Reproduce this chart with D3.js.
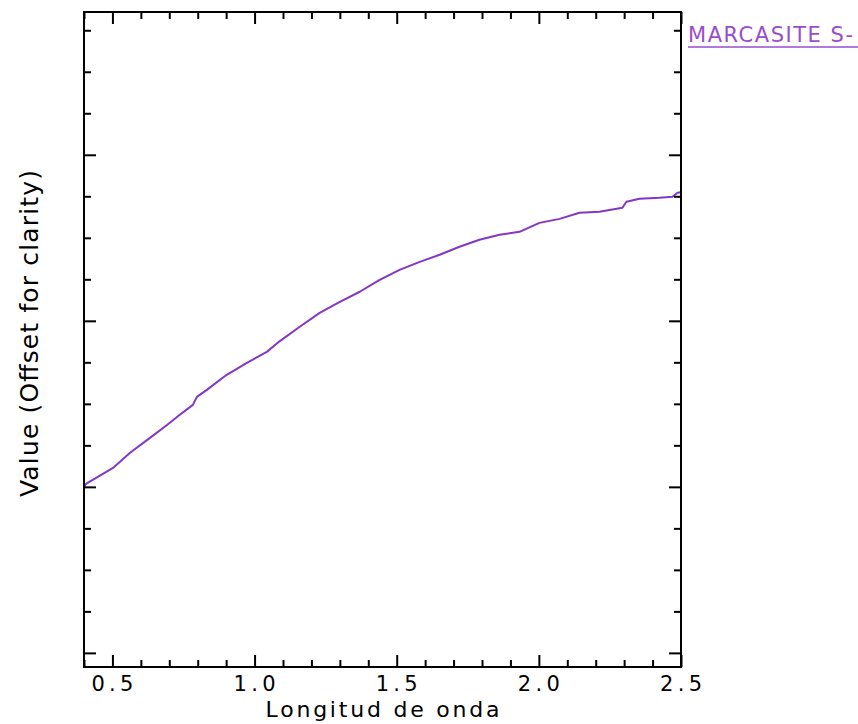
<!DOCTYPE html>
<html>
<head>
<meta charset="utf-8">
<script src="https://cdn.jsdelivr.net/npm/d3@7"></script>
<style>
    body { margin: 0; background: #fff; }
    svg text { font-family: "DejaVu Sans", sans-serif; fill: #000; }
    .axis path { display: none; }
    .axis line { stroke: #000; stroke-width: 2; }
</style>
</head>
<body>
<div id="chart"></div>
<script>
// spectrum (y is in offset units)
var wavelength = [0.40, 0.407, 0.502, 0.562, 0.632, 0.692, 0.737, 0.783, 0.797, 0.832, 0.902, 0.973,
    1.043, 1.089, 1.159, 1.229, 1.300, 1.370, 1.440, 1.510, 1.581, 1.651, 1.721, 1.791, 1.862,
    1.932, 2.002, 2.073, 2.143, 2.213, 2.294, 2.308, 2.354, 2.424, 2.470, 2.488, 2.50];
var value = [1.00, 1.018, 1.114, 1.205, 1.295, 1.373, 1.434, 1.494, 1.542, 1.584, 1.675, 1.747,
    1.813, 1.878, 1.964, 2.048, 2.114, 2.175, 2.247, 2.307, 2.355, 2.398, 2.446, 2.488, 2.518,
    2.536, 2.590, 2.614, 2.651, 2.657, 2.681, 2.717, 2.735, 2.741, 2.747, 2.771, 2.775];

var xMajorTicks = [0.5, 1.0, 1.5, 2.0, 2.5];
var xMinorTicks = [0.4, 0.6, 0.7, 0.8, 0.9, 1.1, 1.2, 1.3, 1.4, 1.6, 1.7, 1.8, 1.9, 2.1, 2.2, 2.3, 2.4];
var yMajorTicks = [0, 1, 2, 3];
var yMinorTicks = [0.25, 0.5, 0.75, 1.25, 1.5, 1.75, 2.25, 2.5, 2.75, 3.25, 3.5, 3.75];
var seriesName = "MARCASITE S-";

var width = 858, height = 724;
var margin = { top: 12, right: 177, bottom: 57, left: 84 };

var svg = d3.select("#chart")
    .append("svg")
    .attr("width", width)
    .attr("height", height);

var x = d3.scaleLinear()
    .domain([0.4, 2.5])
    .range([margin.left, width - margin.right]);

var y = d3.scaleLinear()
    .domain([-0.085, 3.86])
    .range([height - margin.bottom, margin.top]);

var lineColor = "#8436c4";

// the curve
var pts = wavelength.map(function(d, i) { return [d, value[i]]; });
svg.append("path")
    .datum(pts)
    .attr("fill", "none")
    .attr("stroke", lineColor)
    .attr("stroke-width", 2)
    .attr("stroke-linejoin", "round")
    .attr("d", d3.line()
        .x(function(d) { return x(d[0]); })
        .y(function(d) { return y(d[1]); }));

// ticks, all pointing inward
function addAxis(axisFn, scale, ticks, size, pos, cls) {
    svg.append("g")
        .attr("class", "axis " + cls)
        .attr("transform", pos)
        .call(axisFn(scale).tickValues(ticks).tickSizeInner(-size).tickSizeOuter(0).tickFormat(""));
}
var bottom = height - margin.bottom, right = width - margin.right;

addAxis(d3.axisBottom, x, xMajorTicks, 12, `translate(0,${bottom})`, "x-major");
addAxis(d3.axisBottom, x, xMinorTicks, 7, `translate(0,${bottom})`, "x-minor");
addAxis(d3.axisTop, x, xMajorTicks, 12, `translate(0,${margin.top})`, "x-top");
addAxis(d3.axisTop, x, xMinorTicks, 7, `translate(0,${margin.top})`, "x-top");
addAxis(d3.axisLeft, y, yMajorTicks, 12, `translate(${margin.left},0)`, "y-major");
addAxis(d3.axisLeft, y, yMinorTicks, 7, `translate(${margin.left},0)`, "y-minor");
addAxis(d3.axisRight, y, yMajorTicks, 12, `translate(${right},0)`, "y-right");
addAxis(d3.axisRight, y, yMinorTicks, 7, `translate(${right},0)`, "y-right");

// frame
svg.append("rect")
    .attr("x", margin.left)
    .attr("y", margin.top)
    .attr("width", right - margin.left)
    .attr("height", bottom - margin.top)
    .attr("fill", "none")
    .attr("stroke", "#000")
    .attr("stroke-width", 2);

// x tick labels
svg.selectAll(".xlabel")
    .data(xMajorTicks)
    .join("text")
    .attr("class", "xlabel")
    .attr("x", function(d) { return x(d); })
    .attr("y", bottom + 24)
    .attr("text-anchor", "middle")
    .attr("font-size", 21)
    .attr("textLength", 42)
    .text(function(d) { return d3.format(".1f")(d); });

svg.append("text")
    .attr("x", (margin.left + right) / 2)
    .attr("y", height - 7)
    .attr("text-anchor", "middle")
    .attr("font-size", 22)
    .attr("textLength", 234)
    .text("Longitud de onda");

svg.append("text")
    .attr("transform", `translate(38,${(margin.top + bottom) / 2 - 6}) rotate(-90)`)
    .attr("text-anchor", "middle")
    .attr("font-size", 25)
    .attr("textLength", 327)
    .text("Value (Offset for clarity)");

// legend label
svg.append("text")
    .attr("x", right + 7)
    .attr("y", 42)
    .attr("font-size", 21)
    .attr("textLength", 165)
    .style("fill", "#9a4ccc")
    .text(seriesName);

svg.append("line")
    .attr("x1", right + 7)
    .attr("x2", width)
    .attr("y1", 47)
    .attr("y2", 47)
    .attr("stroke", "#9a4ccc")
    .attr("stroke-width", 1.5);
</script>
</body>
</html>
